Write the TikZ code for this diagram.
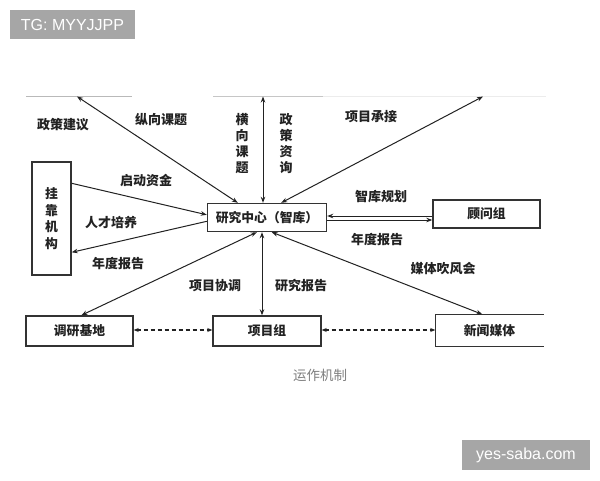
\documentclass[tikz,border=0pt]{standalone}
\usepackage{fontspec}
\setmainfont{Liberation Sans}
\newfontfamily\cjk{Noto Sans CJK SC}
\usetikzlibrary{arrows.meta}
\definecolor{wm}{HTML}{A6A6A6}
\definecolor{ink}{HTML}{222222}
\definecolor{boxc}{HTML}{333333}
\tikzset{
  boxn/.style={draw=boxc, line width=1.4pt, inner sep=0pt, font=\cjk\bfseries\fontsize{12.8}{14}\selectfont, text=ink},
  boxline/.style={draw=boxc, line width=1.4pt},
  lbl/.style={inner sep=0pt, font=\cjk\bfseries\fontsize{13}{15}\selectfont, text=ink},
  vlbl/.style={inner sep=0pt, align=center, font=\cjk\bfseries\fontsize{13}{16}\selectfont, text=ink},
  arr/.style={draw=ink, line width=1pt, -{Stealth[length=6pt,width=4.5pt]}},
  darr/.style={draw=ink, line width=1pt, {Stealth[length=6pt,width=4.5pt]}-{Stealth[length=6pt,width=4.5pt]}},
  dsh/.style={draw=ink, line width=1.3pt, dash pattern=on 4pt off 3pt, {Stealth[length=5pt,width=4pt]}-{Stealth[length=5pt,width=4pt]}},
  wmark/.style={fill=wm, text=white, inner sep=0pt, font=\fontsize{16}{18}\selectfont}
}
\begin{document}
\begin{tikzpicture}[x=1pt,y=-1pt]
\useasboundingbox (0,0) rectangle (600,480);
\fill[white] (0,0) rectangle (600,480);

% watermarks
\node[wmark, minimum width=125pt, minimum height=29pt] (tg) at (72.5,24.5) {TG: MYYJJPP};
\node[wmark, minimum width=128pt, minimum height=30pt] (ys) at (526,455) {yes-saba.com};

% faint top edge
\draw[gray!55, line width=0.7pt] (26,96.5) -- (132,96.5);
\draw[gray!45, line width=0.7pt] (213,96.5) -- (323,96.5);
\draw[gray!15, line width=0.7pt] (323,96.5) -- (546,96.5);

% nodes
\node[boxn, minimum width=119pt, minimum height=28pt] (c) at (267,217.5) {研究中心（智库）};
\node[boxn, minimum width=107pt, minimum height=28pt] (g) at (486.5,214) {顾问组};
\node[boxn, minimum width=39pt, minimum height=113pt, align=center, font=\cjk\bfseries\fontsize{12.8}{16.7}\selectfont] (k) at (51.5,218.5) {挂\\靠\\机\\构};
\node[boxn, minimum width=107pt, minimum height=30pt] (d) at (79.5,331) {调研基地};
\node[boxn, minimum width=108pt, minimum height=30pt] (p) at (267,331) {项目组};
\node[boxn, draw=none, minimum width=107pt, minimum height=31pt] (m) at (489.5,330.5) {新闻媒体};
\draw[boxline] (m.north east) -- (m.north west) -- (m.south west) -- (m.south east);

% free ends at top
\coordinate (tl) at (77,96.5);
\coordinate (tv) at (263,96.5);
\coordinate (tr) at (483,96.5);

% top arrows
\draw[darr] ([xshift=31pt]c.north west) -- (tl);
\draw[darr] (tv |- c.north) -- (tv);
\draw[darr] ([xshift=-46pt]c.north east) -- (tr);

% left arrows (挂靠机构)
\draw[arr] ([yshift=-22pt]k.north east) -- ([yshift=-12pt]c.north west);
\draw[arr] ([yshift=-18.5pt]c.north west) -- ([yshift=-91pt]k.north east);

% right parallel arrows
\coordinate (gu) at ([yshift=-2pt]g.west);
\coordinate (gl) at ([yshift=-6pt]g.west);
\draw[arr] (gu) -- (gu -| c.east);
\draw[arr] (gl -| c.east) -- (gl);

% bottom arrows
\coordinate (pv) at ([xshift=-5pt]p.north);
\draw[darr] ([xshift=50pt]c.south west) -- ([xshift=56pt]d.north west);
\draw[darr] (pv |- c.south) -- (pv);
\draw[darr] ([xshift=65pt]c.south west) -- ([xshift=47pt]m.north west);

% dashed links
\draw[dsh] ([yshift=1pt]d.east) -- ([yshift=1pt]p.west);
\draw[dsh] ([yshift=1pt]p.east) -- ([yshift=0.5pt]m.west);

% labels
\node[lbl] (l1) at (63,125) {政策建议};
\node[lbl] (l2) at (161,120) {纵向课题};
\node[vlbl] (l3) at (242,144) {横\\向\\课\\题};
\node[vlbl] (l4) at (286,144) {政\\策\\资\\询};
\node[lbl] (l5) at (371,117) {项目承接};
\node[lbl] (l6) at (146,181) {启动资金};
\node[lbl] (l7) at (111,223) {人才培养};
\node[lbl] (l8) at (118,264) {年度报告};
\node[lbl] (l9) at (381,197) {智库规划};
\node[lbl] (l10) at (377,240) {年度报告};
\node[lbl] (l11) at (443,269) {媒体吹风会};
\node[lbl] (l12) at (215,286) {项目协调};
\node[lbl] (l13) at (301,286) {研究报告};

% caption
\node[inner sep=0pt, text=black!50, font=\cjk\fontsize{13.5}{15}\selectfont] (cap) at (320,375) {运作机制};
\end{tikzpicture}
\end{document}
